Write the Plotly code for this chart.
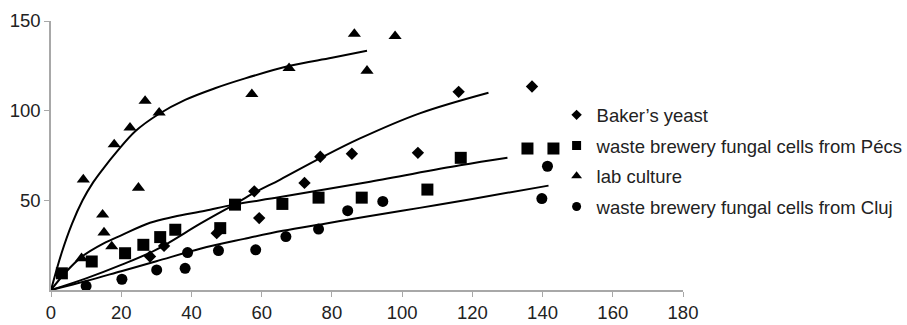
import plotly.graph_objects as go

baker_x = [28.2, 32.2, 47.2, 57.9, 59.3, 72.2, 76.7, 85.7, 104.5, 116.1, 137.0]
baker_y = [18.7, 24.6, 31.7, 55.0, 40.1, 59.7, 74.3, 76.0, 76.5, 110.5, 113.5]

pecs_x = [3.1, 11.6, 21.1, 26.3, 31.1, 35.4, 48.2, 52.4, 65.9, 76.2, 88.5, 107.2, 116.7, 135.7, 143.1]
pecs_y = [9.3, 15.9, 20.5, 25.2, 29.5, 33.6, 34.5, 47.6, 48.0, 51.5, 51.5, 56.0, 73.7, 78.9, 78.9]

lab_x = [9.2, 8.7, 14.7, 15.1, 17.3, 18.0, 22.5, 24.9, 26.8, 30.8, 57.2, 67.8, 86.4, 90.0, 98.0]
lab_y = [61.6, 17.7, 42.0, 32.0, 24.3, 81.2, 90.5, 57.0, 105.4, 98.9, 109.2, 123.7, 142.8, 122.2, 141.5]

cluj_x = [10.0, 20.2, 30.1, 38.2, 38.9, 47.7, 58.3, 66.9, 76.2, 84.5, 94.5, 139.8, 141.4]
cluj_y = [2.2, 6.0, 11.2, 12.1, 20.9, 22.0, 22.4, 29.8, 34.0, 44.2, 49.4, 51.0, 69.0]

# ---- trend lines ----
baker_fit_x = [0, 10, 20, 30, 42.5, 52, 57.7, 65.3, 76.7, 88, 105, 124.6]
baker_fit_y = [0, 6.5, 14, 22.5, 37, 47.5, 54, 61.6, 73.5, 84.5, 98.5, 110]

pecs_fit_x = [0, 4, 8.8, 15, 20, 28.2, 35, 43.9, 52, 65.3, 90.9, 116.5, 130]
pecs_fit_y = [0, 9.5, 18.6, 26, 30.5, 37.5, 40.8, 44.2, 47.6, 51.8, 60.4, 69.5, 73.7]

lab_fit_x = [0, 3, 6, 9, 12, 15, 18.7, 24, 30.6, 38.2, 46.7, 55.3, 68, 80, 90]
lab_fit_y = [0, 20.5, 37, 50, 60, 68, 77, 88.5, 98, 106, 112.5, 118, 125, 129.5, 133.4]

cluj_fit_x = [0, 10, 20, 30, 42.5, 55, 66, 78, 90, 105, 120, 141.7]
cluj_fit_y = [0, 5, 10.5, 16, 23, 28.5, 33, 37, 41, 45.8, 50.8, 58.2]

names = ["Baker\u2019s yeast", "waste brewery fungal cells from P\u00e9cs",
         "lab culture", "waste brewery fungal cells from Cluj"]
symbols = ["diamond", "square", "triangle-up", "circle"]
sizes = [9.5, 12, 11.5, 11]
legend_sizes = [8, 9, 9.5, 9]

xs = [baker_x, pecs_x, lab_x, cluj_x]
ys = [baker_y, pecs_y, lab_y, cluj_y]
fxs = [baker_fit_x, pecs_fit_x, lab_fit_x, cluj_fit_x]
fys = [baker_fit_y, pecs_fit_y, lab_fit_y, cluj_fit_y]

fig = go.Figure()
for i in range(4):
    fig.add_trace(go.Scatter(x=fxs[i], y=fys[i], mode="lines", line=dict(color="black", width=2, shape="spline", smoothing=1.0),
                             showlegend=False, hoverinfo="skip"))
for i in range(4):
    fig.add_trace(go.Scatter(x=xs[i], y=ys[i], mode="markers", name=names[i],
                             marker=dict(symbol=symbols[i], size=sizes[i], color="black"),
                             showlegend=False, cliponaxis=False))
for i in range(4):
    fig.add_trace(go.Scatter(x=[None], y=[None], mode="markers", name=names[i], legendgroup=f"g{i}",
                             marker=dict(symbol=symbols[i], size=legend_sizes[i], color="black")))

axis_col = "#a8a8a8"
fig.update_layout(
    width=907, height=325,
    margin=dict(l=51, r=224, t=21, b=35, autoexpand=False),
    plot_bgcolor="white", paper_bgcolor="white",
    font=dict(family="Liberation Sans, Arial, sans-serif", size=18.5, color="#222"),
    legend=dict(x=0.80, y=0.72, xanchor="left", yanchor="top", traceorder="grouped",
                tracegroupgap=3.5, font=dict(size=18.5), bgcolor="rgba(0,0,0,0)"),
    xaxis=dict(range=[0, 180], tickvals=list(range(0, 181, 20)), showline=True, linecolor=axis_col,
               linewidth=1.5, ticks="outside", ticklen=5, tickcolor=axis_col, showgrid=False, zeroline=False),
    yaxis=dict(range=[0, 150], tickvals=[50, 100, 150], showline=True, linecolor=axis_col,
               linewidth=1.5, ticks="outside", ticklen=5, tickcolor=axis_col, showgrid=False, zeroline=False),
)
fig.write_html("out.html")
